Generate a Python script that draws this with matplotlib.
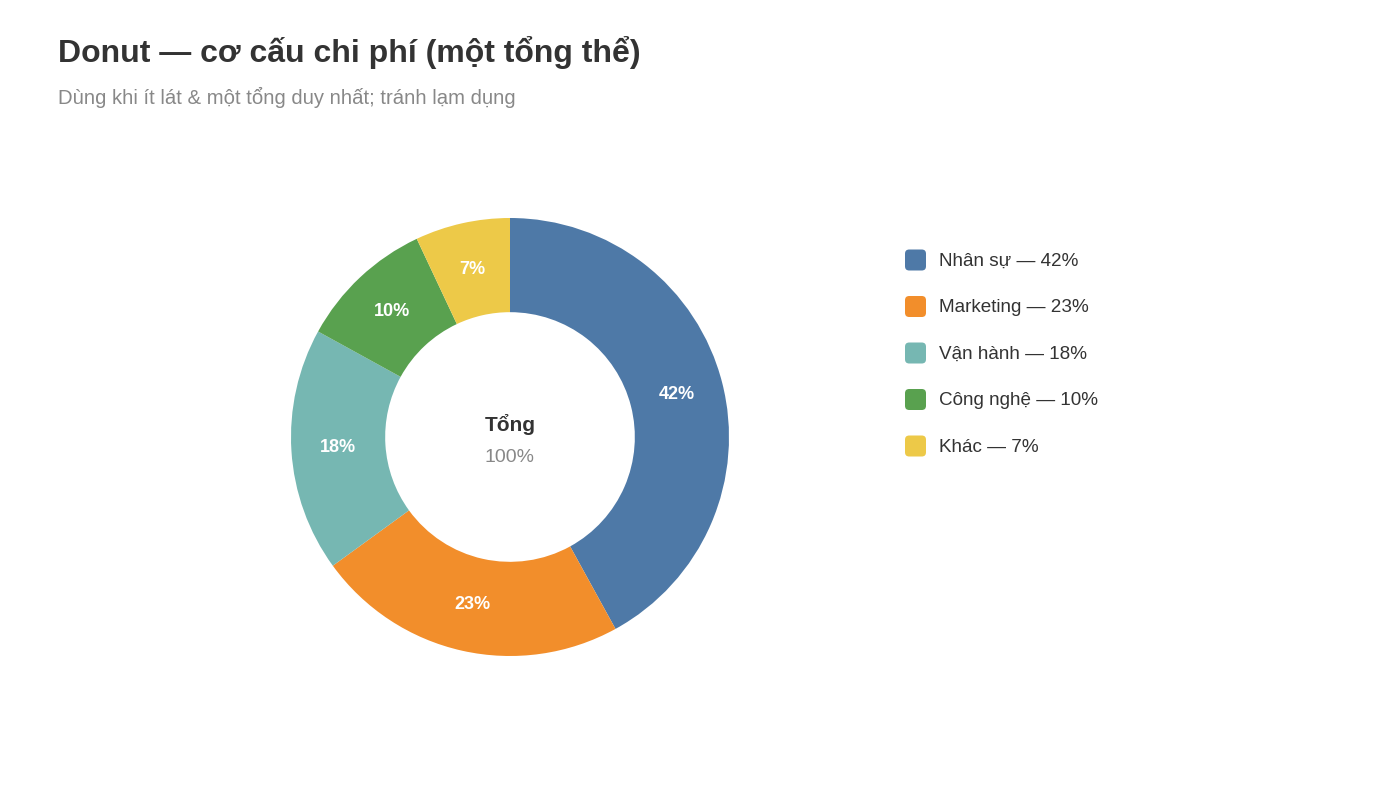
import matplotlib
matplotlib.use("Agg")
import matplotlib.pyplot as plt
from matplotlib.patches import FancyBboxPatch

plt.rcParams['font.family'] = ['Liberation Sans', 'DejaVu Sans']

# du lieu
labels = ['Nhân sự', 'Marketing', 'Vận hành', 'Công nghệ', 'Khác']
values = [42, 23, 18, 10, 7]
colors = ['#4e79a7', '#f28e2b', '#76b7b2', '#59a14f', '#edc948']

W, H = 1400, 787
fig = plt.figure(figsize=(14, 7.87), dpi=100)

fig.text(58 / W, 1 - 53 / H, 'Donut — cơ cấu chi phí (một tổng thể)',
         fontsize=23, fontweight='bold', color='#333333', va='center')
fig.text(58 / W, 1 - 97 / H, 'Dùng khi ít lát & một tổng duy nhất; tránh lạm dụng',
         fontsize=14.6, color='#888888', va='center')

# donut
cx, cy, r = 510, 437, 219
ax = fig.add_axes([(cx - r) / W, (H - cy - r) / H, 2 * r / W, 2 * r / H])
wedges, texts = ax.pie(values, colors=colors, startangle=90, counterclock=False,
                       radius=1, wedgeprops=dict(width=0.43, edgecolor='none'),
                       labels=[f'{v}%' for v in values], labeldistance=0.785,
                       textprops=dict(color='white', fontsize=13, fontweight='bold',
                                      ha='center', va='center'))
ax.set_xlim(-1, 1)
ax.set_ylim(-1, 1)
ax.set_aspect('equal')
ax.axis('off')

ax.text(0, 0.055, 'Tổng', ha='center', va='center', fontsize=15,
        fontweight='bold', color='#333333')
ax.text(0, -0.095, '100%', ha='center', va='center', fontsize=14, color='#888888')

# legend
for i, (lab, v, c) in enumerate(zip(labels, values, colors)):
    y = 260 + i * 46.5
    box = FancyBboxPatch((905 / W, 1 - (y + 10.5) / H), 21 / W, 21 / H,
                         boxstyle='round,pad=0,rounding_size=0.003',
                         transform=fig.transFigure, facecolor=c, edgecolor='none',
                         mutation_aspect=W / H)
    fig.patches.append(box)
    fig.text(939 / W, 1 - (y + 1.5) / H, f'{lab} — {v}%', fontsize=13.6,
             color='#333333', va='center')

plt.savefig('out.png', dpi=100)
